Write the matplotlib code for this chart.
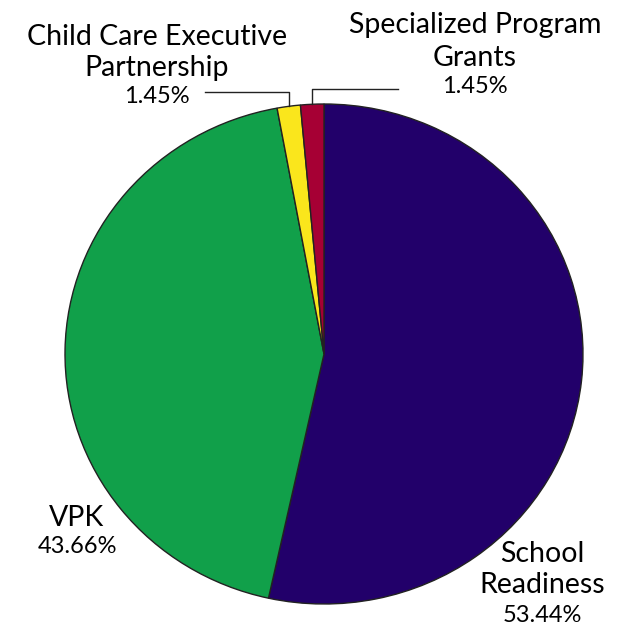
import numpy as np
import matplotlib
matplotlib.use("Agg")
import matplotlib.pyplot as plt

categories = ["School Readiness", "VPK", "Child Care Executive Partnership", "Specialized Program Grants"]
values = [53.44, 43.66, 1.45, 1.45]
colors = ["#22006A", "#11A04A", "#FAE61C", "#A60034"]

W, H = 621, 625
fig = plt.figure(figsize=(W / 100, H / 100), dpi=100)
# pie bounds in pixels
px_l, px_r, py_t, py_b = 65, 583, 104, 604
ax = fig.add_axes([px_l / W, 1 - py_b / H, (px_r - px_l) / W, (py_b - py_t) / H])
wedges, _ = ax.pie(values, colors=colors, startangle=90, counterclock=False,
                   wedgeprops=dict(edgecolor="#222222", linewidth=1.0))
ax.set_aspect("auto")
ax.set_xlim(-1, 1)
ax.set_ylim(-1, 1)
ax.axis("off")

FONT = "Lato"
NS, PS = 20.5, 17


def px2d(px, py):
    cx = (px_l + px_r) / 2
    cy = (py_t + py_b) / 2
    return (px - cx) / ((px_r - px_l) / 2), (cy - py) / ((py_b - py_t) / 2)


def label(lines, pct, px, baselines):
    for i, s in enumerate(lines + [pct]):
        x, y = px2d(px, baselines[i])
        ax.text(x, y, s, ha="center", va="baseline",
                fontsize=PS if i == len(lines) else NS, family=FONT, clip_on=False)


label(["Child Care Executive", "Partnership"], f"{values[2]:.2f}%", 157, [45, 76, 103])
label(["Specialized Program", "Grants"], f"{values[3]:.2f}%", 475, [33, 66, 93])
label(["VPK"], f"{values[1]:.2f}%", 77, [526, 553])
label(["School", "Readiness"], f"{values[0]:.2f}%", 542, [562, 593, 622])


def leader(w, start_px, ypx):
    mid = np.deg2rad((w.theta1 + w.theta2) / 2)
    ex, ey = np.cos(mid), np.sin(mid)
    sx, sy = px2d(start_px, ypx)
    ax.plot([sx, ex, ex], [sy, sy, ey], color="#222222", lw=1.0, clip_on=False)


leader(wedges[2], 205, 92)
leader(wedges[3], 398, 89)

fig.savefig("out.png", dpi=100)
